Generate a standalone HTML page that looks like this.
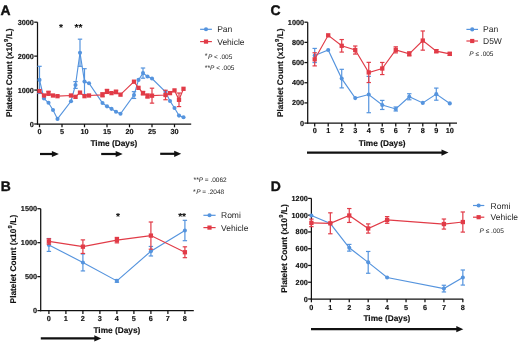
<!DOCTYPE html>
<html><head><meta charset="utf-8"><style>
html,body{margin:0;padding:0;background:#fff;}
body{width:520px;height:343px;overflow:hidden;}
svg{display:block;font-family:"Liberation Sans", sans-serif;filter:blur(0.3px);text-rendering:geometricPrecision;}
</style></head><body>
<svg width="520" height="343" viewBox="0 0 520 343">
<rect width="520" height="343" fill="#fff"/>
<line x1="37.5" y1="22.2" x2="37.5" y2="124.6" stroke="#111" stroke-width="1.25" />
<line x1="36.9" y1="124" x2="191.2" y2="124" stroke="#111" stroke-width="1.25" />
<line x1="34.2" y1="124" x2="37.5" y2="124" stroke="#111" stroke-width="1.25" />
<text x="33.9" y="126.5" font-size="7.3" font-weight="bold" text-anchor="end" fill="#111" stroke="#111" stroke-width="0.15"  >0</text>
<line x1="34.2" y1="90.07" x2="37.5" y2="90.07" stroke="#111" stroke-width="1.25" />
<text x="33.9" y="92.57" font-size="7.3" font-weight="bold" text-anchor="end" fill="#111" stroke="#111" stroke-width="0.15"  >1000</text>
<line x1="34.2" y1="56.13" x2="37.5" y2="56.13" stroke="#111" stroke-width="1.25" />
<text x="33.9" y="58.63" font-size="7.3" font-weight="bold" text-anchor="end" fill="#111" stroke="#111" stroke-width="0.15"  >2000</text>
<line x1="34.2" y1="22.2" x2="37.5" y2="22.2" stroke="#111" stroke-width="1.25" />
<text x="33.9" y="24.7" font-size="7.3" font-weight="bold" text-anchor="end" fill="#111" stroke="#111" stroke-width="0.15"  >3000</text>
<line x1="39.5" y1="124" x2="39.5" y2="127.3" stroke="#111" stroke-width="1.25" />
<text x="39.5" y="133.8" font-size="7.3" font-weight="bold" text-anchor="middle" fill="#111" stroke="#111" stroke-width="0.15"  >0</text>
<line x1="62" y1="124" x2="62" y2="127.3" stroke="#111" stroke-width="1.25" />
<text x="62" y="133.8" font-size="7.3" font-weight="bold" text-anchor="middle" fill="#111" stroke="#111" stroke-width="0.15"  >5</text>
<line x1="84.5" y1="124" x2="84.5" y2="127.3" stroke="#111" stroke-width="1.25" />
<text x="84.5" y="133.8" font-size="7.3" font-weight="bold" text-anchor="middle" fill="#111" stroke="#111" stroke-width="0.15"  >10</text>
<line x1="107" y1="124" x2="107" y2="127.3" stroke="#111" stroke-width="1.25" />
<text x="107" y="133.8" font-size="7.3" font-weight="bold" text-anchor="middle" fill="#111" stroke="#111" stroke-width="0.15"  >15</text>
<line x1="129.5" y1="124" x2="129.5" y2="127.3" stroke="#111" stroke-width="1.25" />
<text x="129.5" y="133.8" font-size="7.3" font-weight="bold" text-anchor="middle" fill="#111" stroke="#111" stroke-width="0.15"  >20</text>
<line x1="152" y1="124" x2="152" y2="127.3" stroke="#111" stroke-width="1.25" />
<text x="152" y="133.8" font-size="7.3" font-weight="bold" text-anchor="middle" fill="#111" stroke="#111" stroke-width="0.15"  >25</text>
<line x1="174.5" y1="124" x2="174.5" y2="127.3" stroke="#111" stroke-width="1.25" />
<text x="174.5" y="133.8" font-size="7.3" font-weight="bold" text-anchor="middle" fill="#111" stroke="#111" stroke-width="0.15"  >30</text>
<text x="113.9" y="145.6" font-size="8.3" font-weight="bold" text-anchor="middle" fill="#111" stroke="#111" stroke-width="0.15"  >Time (Days)</text>
<text transform="translate(11.6,72.8) rotate(-90)" font-size="8.3" font-weight="bold" text-anchor="middle" fill="#111" stroke="#111" stroke-width="0.15">Platelet Count (x10<tspan font-size="5.8" dy="-3.6" dx="0.3">9</tspan><tspan dy="3.6" dx="0.2">/L)</tspan></text>
<text x="0.5" y="15.2" font-size="13.9" font-weight="bold" text-anchor="start" fill="#111" stroke="#111" stroke-width="0.4"  >A</text>
<line x1="39.5" y1="66.31" x2="39.5" y2="93.46" stroke="#5594de" stroke-width="1.2" />
<line x1="37.3" y1="66.31" x2="41.7" y2="66.31" stroke="#5594de" stroke-width="1.2" />
<line x1="37.3" y1="93.46" x2="41.7" y2="93.46" stroke="#5594de" stroke-width="1.2" />
<line x1="75.5" y1="81.58" x2="75.5" y2="88.37" stroke="#5594de" stroke-width="1.2" />
<line x1="73.3" y1="81.58" x2="77.7" y2="81.58" stroke="#5594de" stroke-width="1.2" />
<line x1="73.3" y1="88.37" x2="77.7" y2="88.37" stroke="#5594de" stroke-width="1.2" />
<line x1="80" y1="39.17" x2="80" y2="66.31" stroke="#5594de" stroke-width="1.2" />
<line x1="77.8" y1="39.17" x2="82.2" y2="39.17" stroke="#5594de" stroke-width="1.2" />
<line x1="77.8" y1="66.31" x2="82.2" y2="66.31" stroke="#5594de" stroke-width="1.2" />
<line x1="84.5" y1="68.69" x2="84.5" y2="94.48" stroke="#5594de" stroke-width="1.2" />
<line x1="82.3" y1="68.69" x2="86.7" y2="68.69" stroke="#5594de" stroke-width="1.2" />
<line x1="82.3" y1="94.48" x2="86.7" y2="94.48" stroke="#5594de" stroke-width="1.2" />
<line x1="134" y1="91.66" x2="134" y2="98.45" stroke="#5594de" stroke-width="1.2" />
<line x1="131.8" y1="91.66" x2="136.2" y2="91.66" stroke="#5594de" stroke-width="1.2" />
<line x1="131.8" y1="98.45" x2="136.2" y2="98.45" stroke="#5594de" stroke-width="1.2" />
<line x1="143" y1="68.01" x2="143" y2="78.19" stroke="#5594de" stroke-width="1.2" />
<line x1="140.8" y1="68.01" x2="145.2" y2="68.01" stroke="#5594de" stroke-width="1.2" />
<line x1="140.8" y1="78.19" x2="145.2" y2="78.19" stroke="#5594de" stroke-width="1.2" />
<path d="M39.5,79.89 L44,98.55 L48.5,102.76 L53,109.95 L57.5,118.91 L71,101.26 L75.5,84.98 L80,52.74 L84.5,81.58 L89,83.28 L102.5,103.03 L107,106.35 L111.5,108.83 L116,111.72 L120.5,113.82 L134,95.05 L138.5,79.89 L143,73.1 L147.5,76.49 L152,78.53 L165.5,91.76 L170,101.06 L174.5,108.05 L179,115.62 L183.5,117.32" fill="none" stroke="#5594de" stroke-width="1.15"/>
<circle cx="39.5" cy="79.89" r="2.05" fill="#5594de"/>
<circle cx="44" cy="98.55" r="2.05" fill="#5594de"/>
<circle cx="48.5" cy="102.76" r="2.05" fill="#5594de"/>
<circle cx="53" cy="109.95" r="2.05" fill="#5594de"/>
<circle cx="57.5" cy="118.91" r="2.05" fill="#5594de"/>
<circle cx="71" cy="101.26" r="2.05" fill="#5594de"/>
<circle cx="75.5" cy="84.98" r="2.05" fill="#5594de"/>
<circle cx="80" cy="52.74" r="2.05" fill="#5594de"/>
<circle cx="84.5" cy="81.58" r="2.05" fill="#5594de"/>
<circle cx="89" cy="83.28" r="2.05" fill="#5594de"/>
<circle cx="102.5" cy="103.03" r="2.05" fill="#5594de"/>
<circle cx="107" cy="106.35" r="2.05" fill="#5594de"/>
<circle cx="111.5" cy="108.83" r="2.05" fill="#5594de"/>
<circle cx="116" cy="111.72" r="2.05" fill="#5594de"/>
<circle cx="120.5" cy="113.82" r="2.05" fill="#5594de"/>
<circle cx="134" cy="95.05" r="2.05" fill="#5594de"/>
<circle cx="138.5" cy="79.89" r="2.05" fill="#5594de"/>
<circle cx="143" cy="73.1" r="2.05" fill="#5594de"/>
<circle cx="147.5" cy="76.49" r="2.05" fill="#5594de"/>
<circle cx="152" cy="78.53" r="2.05" fill="#5594de"/>
<circle cx="165.5" cy="91.76" r="2.05" fill="#5594de"/>
<circle cx="170" cy="101.06" r="2.05" fill="#5594de"/>
<circle cx="174.5" cy="108.05" r="2.05" fill="#5594de"/>
<circle cx="179" cy="115.62" r="2.05" fill="#5594de"/>
<circle cx="183.5" cy="117.32" r="2.05" fill="#5594de"/>
<line x1="48.5" y1="91.25" x2="48.5" y2="95.33" stroke="#e13b47" stroke-width="1.2" />
<line x1="46.3" y1="91.25" x2="50.7" y2="91.25" stroke="#e13b47" stroke-width="1.2" />
<line x1="46.3" y1="95.33" x2="50.7" y2="95.33" stroke="#e13b47" stroke-width="1.2" />
<line x1="102.5" y1="92.78" x2="102.5" y2="96.85" stroke="#e13b47" stroke-width="1.2" />
<line x1="100.3" y1="92.78" x2="104.7" y2="92.78" stroke="#e13b47" stroke-width="1.2" />
<line x1="100.3" y1="96.85" x2="104.7" y2="96.85" stroke="#e13b47" stroke-width="1.2" />
<line x1="107" y1="89.39" x2="107" y2="93.46" stroke="#e13b47" stroke-width="1.2" />
<line x1="104.8" y1="89.39" x2="109.2" y2="89.39" stroke="#e13b47" stroke-width="1.2" />
<line x1="104.8" y1="93.46" x2="109.2" y2="93.46" stroke="#e13b47" stroke-width="1.2" />
<line x1="116" y1="90.24" x2="116" y2="93.63" stroke="#e13b47" stroke-width="1.2" />
<line x1="113.8" y1="90.24" x2="118.2" y2="90.24" stroke="#e13b47" stroke-width="1.2" />
<line x1="113.8" y1="93.63" x2="118.2" y2="93.63" stroke="#e13b47" stroke-width="1.2" />
<line x1="143" y1="91.42" x2="143" y2="94.82" stroke="#e13b47" stroke-width="1.2" />
<line x1="140.8" y1="91.42" x2="145.2" y2="91.42" stroke="#e13b47" stroke-width="1.2" />
<line x1="140.8" y1="94.82" x2="145.2" y2="94.82" stroke="#e13b47" stroke-width="1.2" />
<line x1="147.5" y1="93.97" x2="147.5" y2="98.04" stroke="#e13b47" stroke-width="1.2" />
<line x1="145.3" y1="93.97" x2="149.7" y2="93.97" stroke="#e13b47" stroke-width="1.2" />
<line x1="145.3" y1="98.04" x2="149.7" y2="98.04" stroke="#e13b47" stroke-width="1.2" />
<line x1="152" y1="88.2" x2="152" y2="103.13" stroke="#e13b47" stroke-width="1.2" />
<line x1="149.8" y1="88.2" x2="154.2" y2="88.2" stroke="#e13b47" stroke-width="1.2" />
<line x1="149.8" y1="103.13" x2="154.2" y2="103.13" stroke="#e13b47" stroke-width="1.2" />
<line x1="165.5" y1="90.24" x2="165.5" y2="99.74" stroke="#e13b47" stroke-width="1.2" />
<line x1="163.3" y1="90.24" x2="167.7" y2="90.24" stroke="#e13b47" stroke-width="1.2" />
<line x1="163.3" y1="99.74" x2="167.7" y2="99.74" stroke="#e13b47" stroke-width="1.2" />
<line x1="179" y1="93.02" x2="179" y2="106.59" stroke="#e13b47" stroke-width="1.2" />
<line x1="176.8" y1="93.02" x2="181.2" y2="93.02" stroke="#e13b47" stroke-width="1.2" />
<line x1="176.8" y1="106.59" x2="181.2" y2="106.59" stroke="#e13b47" stroke-width="1.2" />
<path d="M39.5,91.08 L44,95.5 L48.5,93.29 L53,95.5 L57.5,96.17 L71,95.5 L75.5,96.85 L80,92.61 L84.5,96.17 L89,95.5 L102.5,94.82 L107,91.42 L111.5,93.12 L116,91.93 L120.5,94.65 L134,81.69 L138.5,87.86 L143,93.12 L147.5,96 L152,95.67 L165.5,94.99 L170,93.12 L174.5,90.41 L179,99.81 L183.5,88.81" fill="none" stroke="#e13b47" stroke-width="1.15"/>
<rect x="37.35" y="88.93" width="4.3" height="4.3" fill="#e13b47"/>
<rect x="41.85" y="93.35" width="4.3" height="4.3" fill="#e13b47"/>
<rect x="46.35" y="91.14" width="4.3" height="4.3" fill="#e13b47"/>
<rect x="50.85" y="93.35" width="4.3" height="4.3" fill="#e13b47"/>
<rect x="55.35" y="94.02" width="4.3" height="4.3" fill="#e13b47"/>
<rect x="68.85" y="93.35" width="4.3" height="4.3" fill="#e13b47"/>
<rect x="73.35" y="94.7" width="4.3" height="4.3" fill="#e13b47"/>
<rect x="77.85" y="90.46" width="4.3" height="4.3" fill="#e13b47"/>
<rect x="82.35" y="94.02" width="4.3" height="4.3" fill="#e13b47"/>
<rect x="86.85" y="93.35" width="4.3" height="4.3" fill="#e13b47"/>
<rect x="100.35" y="92.67" width="4.3" height="4.3" fill="#e13b47"/>
<rect x="104.85" y="89.27" width="4.3" height="4.3" fill="#e13b47"/>
<rect x="109.35" y="90.97" width="4.3" height="4.3" fill="#e13b47"/>
<rect x="113.85" y="89.78" width="4.3" height="4.3" fill="#e13b47"/>
<rect x="118.35" y="92.5" width="4.3" height="4.3" fill="#e13b47"/>
<rect x="131.85" y="79.54" width="4.3" height="4.3" fill="#e13b47"/>
<rect x="136.35" y="85.71" width="4.3" height="4.3" fill="#e13b47"/>
<rect x="140.85" y="90.97" width="4.3" height="4.3" fill="#e13b47"/>
<rect x="145.35" y="93.85" width="4.3" height="4.3" fill="#e13b47"/>
<rect x="149.85" y="93.52" width="4.3" height="4.3" fill="#e13b47"/>
<rect x="163.35" y="92.84" width="4.3" height="4.3" fill="#e13b47"/>
<rect x="167.85" y="90.97" width="4.3" height="4.3" fill="#e13b47"/>
<rect x="172.35" y="88.26" width="4.3" height="4.3" fill="#e13b47"/>
<rect x="176.85" y="97.66" width="4.3" height="4.3" fill="#e13b47"/>
<rect x="181.35" y="86.66" width="4.3" height="4.3" fill="#e13b47"/>
<line x1="200.1" y1="29.3" x2="211.9" y2="29.3" stroke="#5594de" stroke-width="1.2" />
<circle cx="206" cy="29.3" r="2.05" fill="#5594de"/>
<text x="217.2" y="32.3" font-size="8.5" font-weight="normal" text-anchor="start" fill="#262626"  >Pan</text>
<line x1="200.1" y1="41.6" x2="211.9" y2="41.6" stroke="#e13b47" stroke-width="1.2" />
<rect x="203.9" y="39.5" width="4.2" height="4.2" fill="#e13b47"/>
<text x="217.2" y="44.6" font-size="8.5" font-weight="normal" text-anchor="start" fill="#262626"  >Vehicle</text>
<text x="204.8" y="58.3" font-size="7" fill="#222">*</text>
<text x="207.9" y="58.6" font-size="6.5" fill="#222"><tspan font-style="italic">P</tspan> &lt; .005</text>
<text x="204.8" y="69.8" font-size="7" fill="#222">**</text>
<text x="210" y="70.1" font-size="6.5" fill="#222"><tspan font-style="italic">P</tspan> &lt; .005</text>
<text x="61" y="31" font-size="10.2" font-weight="bold" text-anchor="middle" fill="#111" stroke="#111" stroke-width="0.05"  >*</text>
<text x="78.4" y="31" font-size="10.2" font-weight="bold" text-anchor="middle" fill="#111" stroke="#111" stroke-width="0.05"  >**</text>
<line x1="40" y1="154" x2="52.9" y2="154" stroke="#111" stroke-width="2.2" />
<path d="M58.9,154 L51.9,150.9 L51.9,157.1 Z" fill="#111"/>
<line x1="101.2" y1="154" x2="116.7" y2="154" stroke="#111" stroke-width="2.2" />
<path d="M122.7,154 L115.7,150.9 L115.7,157.1 Z" fill="#111"/>
<line x1="160.2" y1="153.8" x2="175.2" y2="153.8" stroke="#111" stroke-width="2.2" />
<path d="M181.2,153.8 L174.2,150.7 L174.2,156.9 Z" fill="#111"/>
<line x1="307.7" y1="22.2" x2="307.7" y2="123.7" stroke="#111" stroke-width="1.25" />
<line x1="307.1" y1="123.1" x2="457" y2="123.1" stroke="#111" stroke-width="1.25" />
<line x1="304.4" y1="123.1" x2="307.7" y2="123.1" stroke="#111" stroke-width="1.25" />
<text x="304.1" y="125.6" font-size="7.3" font-weight="bold" text-anchor="end" fill="#111" stroke="#111" stroke-width="0.15"  >0</text>
<line x1="304.4" y1="102.92" x2="307.7" y2="102.92" stroke="#111" stroke-width="1.25" />
<text x="304.1" y="105.42" font-size="7.3" font-weight="bold" text-anchor="end" fill="#111" stroke="#111" stroke-width="0.15"  >200</text>
<line x1="304.4" y1="82.74" x2="307.7" y2="82.74" stroke="#111" stroke-width="1.25" />
<text x="304.1" y="85.24" font-size="7.3" font-weight="bold" text-anchor="end" fill="#111" stroke="#111" stroke-width="0.15"  >400</text>
<line x1="304.4" y1="62.56" x2="307.7" y2="62.56" stroke="#111" stroke-width="1.25" />
<text x="304.1" y="65.06" font-size="7.3" font-weight="bold" text-anchor="end" fill="#111" stroke="#111" stroke-width="0.15"  >600</text>
<line x1="304.4" y1="42.38" x2="307.7" y2="42.38" stroke="#111" stroke-width="1.25" />
<text x="304.1" y="44.88" font-size="7.3" font-weight="bold" text-anchor="end" fill="#111" stroke="#111" stroke-width="0.15"  >800</text>
<line x1="304.4" y1="22.2" x2="307.7" y2="22.2" stroke="#111" stroke-width="1.25" />
<text x="304.1" y="24.7" font-size="7.3" font-weight="bold" text-anchor="end" fill="#111" stroke="#111" stroke-width="0.15"  >1000</text>
<line x1="314.7" y1="123.1" x2="314.7" y2="126.4" stroke="#111" stroke-width="1.25" />
<text x="314.7" y="133.2" font-size="7.3" font-weight="bold" text-anchor="middle" fill="#111" stroke="#111" stroke-width="0.15"  >0</text>
<line x1="328.21" y1="123.1" x2="328.21" y2="126.4" stroke="#111" stroke-width="1.25" />
<text x="328.21" y="133.2" font-size="7.3" font-weight="bold" text-anchor="middle" fill="#111" stroke="#111" stroke-width="0.15"  >1</text>
<line x1="341.72" y1="123.1" x2="341.72" y2="126.4" stroke="#111" stroke-width="1.25" />
<text x="341.72" y="133.2" font-size="7.3" font-weight="bold" text-anchor="middle" fill="#111" stroke="#111" stroke-width="0.15"  >2</text>
<line x1="355.23" y1="123.1" x2="355.23" y2="126.4" stroke="#111" stroke-width="1.25" />
<text x="355.23" y="133.2" font-size="7.3" font-weight="bold" text-anchor="middle" fill="#111" stroke="#111" stroke-width="0.15"  >3</text>
<line x1="368.74" y1="123.1" x2="368.74" y2="126.4" stroke="#111" stroke-width="1.25" />
<text x="368.74" y="133.2" font-size="7.3" font-weight="bold" text-anchor="middle" fill="#111" stroke="#111" stroke-width="0.15"  >4</text>
<line x1="382.25" y1="123.1" x2="382.25" y2="126.4" stroke="#111" stroke-width="1.25" />
<text x="382.25" y="133.2" font-size="7.3" font-weight="bold" text-anchor="middle" fill="#111" stroke="#111" stroke-width="0.15"  >5</text>
<line x1="395.76" y1="123.1" x2="395.76" y2="126.4" stroke="#111" stroke-width="1.25" />
<text x="395.76" y="133.2" font-size="7.3" font-weight="bold" text-anchor="middle" fill="#111" stroke="#111" stroke-width="0.15"  >6</text>
<line x1="409.27" y1="123.1" x2="409.27" y2="126.4" stroke="#111" stroke-width="1.25" />
<text x="409.27" y="133.2" font-size="7.3" font-weight="bold" text-anchor="middle" fill="#111" stroke="#111" stroke-width="0.15"  >7</text>
<line x1="422.78" y1="123.1" x2="422.78" y2="126.4" stroke="#111" stroke-width="1.25" />
<text x="422.78" y="133.2" font-size="7.3" font-weight="bold" text-anchor="middle" fill="#111" stroke="#111" stroke-width="0.15"  >8</text>
<line x1="436.29" y1="123.1" x2="436.29" y2="126.4" stroke="#111" stroke-width="1.25" />
<text x="436.29" y="133.2" font-size="7.3" font-weight="bold" text-anchor="middle" fill="#111" stroke="#111" stroke-width="0.15"  >9</text>
<line x1="449.8" y1="123.1" x2="449.8" y2="126.4" stroke="#111" stroke-width="1.25" />
<text x="449.8" y="133.2" font-size="7.3" font-weight="bold" text-anchor="middle" fill="#111" stroke="#111" stroke-width="0.15"  >10</text>
<text x="382.1" y="145.6" font-size="8.3" font-weight="bold" text-anchor="middle" fill="#111" stroke="#111" stroke-width="0.15"  >Time (Days)</text>
<text transform="translate(282.5,72.7) rotate(-90)" font-size="8.3" font-weight="bold" text-anchor="middle" fill="#111" stroke="#111" stroke-width="0.15">Platelet Count (x10<tspan font-size="5.8" dy="-3.6" dx="0.3">9</tspan><tspan dy="3.6" dx="0.2">/L)</tspan></text>
<text x="270.5" y="15.2" font-size="13.9" font-weight="bold" text-anchor="start" fill="#111" stroke="#111" stroke-width="0.4"  >C</text>
<line x1="314.7" y1="48.43" x2="314.7" y2="62.56" stroke="#5594de" stroke-width="1.2" />
<line x1="312.5" y1="48.43" x2="316.9" y2="48.43" stroke="#5594de" stroke-width="1.2" />
<line x1="312.5" y1="62.56" x2="316.9" y2="62.56" stroke="#5594de" stroke-width="1.2" />
<line x1="341.72" y1="69.32" x2="341.72" y2="87.89" stroke="#5594de" stroke-width="1.2" />
<line x1="339.52" y1="69.32" x2="343.92" y2="69.32" stroke="#5594de" stroke-width="1.2" />
<line x1="339.52" y1="87.89" x2="343.92" y2="87.89" stroke="#5594de" stroke-width="1.2" />
<line x1="368.74" y1="76.38" x2="368.74" y2="112.71" stroke="#5594de" stroke-width="1.2" />
<line x1="366.54" y1="76.38" x2="370.94" y2="76.38" stroke="#5594de" stroke-width="1.2" />
<line x1="366.54" y1="112.71" x2="370.94" y2="112.71" stroke="#5594de" stroke-width="1.2" />
<line x1="382.25" y1="100.4" x2="382.25" y2="109.48" stroke="#5594de" stroke-width="1.2" />
<line x1="380.05" y1="100.4" x2="384.45" y2="100.4" stroke="#5594de" stroke-width="1.2" />
<line x1="380.05" y1="109.48" x2="384.45" y2="109.48" stroke="#5594de" stroke-width="1.2" />
<line x1="395.76" y1="106.96" x2="395.76" y2="110.99" stroke="#5594de" stroke-width="1.2" />
<line x1="393.56" y1="106.96" x2="397.96" y2="106.96" stroke="#5594de" stroke-width="1.2" />
<line x1="393.56" y1="110.99" x2="397.96" y2="110.99" stroke="#5594de" stroke-width="1.2" />
<line x1="409.27" y1="93.74" x2="409.27" y2="99.79" stroke="#5594de" stroke-width="1.2" />
<line x1="407.07" y1="93.74" x2="411.47" y2="93.74" stroke="#5594de" stroke-width="1.2" />
<line x1="407.07" y1="99.79" x2="411.47" y2="99.79" stroke="#5594de" stroke-width="1.2" />
<line x1="436.29" y1="88.09" x2="436.29" y2="100.2" stroke="#5594de" stroke-width="1.2" />
<line x1="434.09" y1="88.09" x2="438.49" y2="88.09" stroke="#5594de" stroke-width="1.2" />
<line x1="434.09" y1="100.2" x2="438.49" y2="100.2" stroke="#5594de" stroke-width="1.2" />
<path d="M314.7,55.5 L328.21,50.05 L341.72,78.6 L355.23,98.08 L368.74,94.55 L382.25,104.94 L395.76,108.97 L409.27,96.77 L422.78,102.92 L436.29,94.14 L449.8,103.42" fill="none" stroke="#5594de" stroke-width="1.15"/>
<circle cx="314.7" cy="55.5" r="2.05" fill="#5594de"/>
<circle cx="328.21" cy="50.05" r="2.05" fill="#5594de"/>
<circle cx="341.72" cy="78.6" r="2.05" fill="#5594de"/>
<circle cx="355.23" cy="98.08" r="2.05" fill="#5594de"/>
<circle cx="368.74" cy="94.55" r="2.05" fill="#5594de"/>
<circle cx="382.25" cy="104.94" r="2.05" fill="#5594de"/>
<circle cx="395.76" cy="108.97" r="2.05" fill="#5594de"/>
<circle cx="409.27" cy="96.77" r="2.05" fill="#5594de"/>
<circle cx="422.78" cy="102.92" r="2.05" fill="#5594de"/>
<circle cx="436.29" cy="94.14" r="2.05" fill="#5594de"/>
<circle cx="449.8" cy="103.42" r="2.05" fill="#5594de"/>
<line x1="314.7" y1="52.77" x2="314.7" y2="65.89" stroke="#e13b47" stroke-width="1.2" />
<line x1="312.5" y1="52.77" x2="316.9" y2="52.77" stroke="#e13b47" stroke-width="1.2" />
<line x1="312.5" y1="65.89" x2="316.9" y2="65.89" stroke="#e13b47" stroke-width="1.2" />
<line x1="341.72" y1="39.55" x2="341.72" y2="52.07" stroke="#e13b47" stroke-width="1.2" />
<line x1="339.52" y1="39.55" x2="343.92" y2="39.55" stroke="#e13b47" stroke-width="1.2" />
<line x1="339.52" y1="52.07" x2="343.92" y2="52.07" stroke="#e13b47" stroke-width="1.2" />
<line x1="355.23" y1="46.01" x2="355.23" y2="54.08" stroke="#e13b47" stroke-width="1.2" />
<line x1="353.03" y1="46.01" x2="357.43" y2="46.01" stroke="#e13b47" stroke-width="1.2" />
<line x1="353.03" y1="54.08" x2="357.43" y2="54.08" stroke="#e13b47" stroke-width="1.2" />
<line x1="368.74" y1="62.36" x2="368.74" y2="82.54" stroke="#e13b47" stroke-width="1.2" />
<line x1="366.54" y1="62.36" x2="370.94" y2="62.36" stroke="#e13b47" stroke-width="1.2" />
<line x1="366.54" y1="82.54" x2="370.94" y2="82.54" stroke="#e13b47" stroke-width="1.2" />
<line x1="382.25" y1="62.46" x2="382.25" y2="74.57" stroke="#e13b47" stroke-width="1.2" />
<line x1="380.05" y1="62.46" x2="384.45" y2="62.46" stroke="#e13b47" stroke-width="1.2" />
<line x1="380.05" y1="74.57" x2="384.45" y2="74.57" stroke="#e13b47" stroke-width="1.2" />
<line x1="395.76" y1="46.82" x2="395.76" y2="52.87" stroke="#e13b47" stroke-width="1.2" />
<line x1="393.56" y1="46.82" x2="397.96" y2="46.82" stroke="#e13b47" stroke-width="1.2" />
<line x1="393.56" y1="52.87" x2="397.96" y2="52.87" stroke="#e13b47" stroke-width="1.2" />
<line x1="409.27" y1="51.86" x2="409.27" y2="55.9" stroke="#e13b47" stroke-width="1.2" />
<line x1="407.07" y1="51.86" x2="411.47" y2="51.86" stroke="#e13b47" stroke-width="1.2" />
<line x1="407.07" y1="55.9" x2="411.47" y2="55.9" stroke="#e13b47" stroke-width="1.2" />
<line x1="422.78" y1="30.98" x2="422.78" y2="50.15" stroke="#e13b47" stroke-width="1.2" />
<line x1="420.58" y1="30.98" x2="424.98" y2="30.98" stroke="#e13b47" stroke-width="1.2" />
<line x1="420.58" y1="50.15" x2="424.98" y2="50.15" stroke="#e13b47" stroke-width="1.2" />
<line x1="436.29" y1="49.64" x2="436.29" y2="52.67" stroke="#e13b47" stroke-width="1.2" />
<line x1="434.09" y1="49.64" x2="438.49" y2="49.64" stroke="#e13b47" stroke-width="1.2" />
<line x1="434.09" y1="52.67" x2="438.49" y2="52.67" stroke="#e13b47" stroke-width="1.2" />
<line x1="449.8" y1="52.37" x2="449.8" y2="55.4" stroke="#e13b47" stroke-width="1.2" />
<line x1="447.6" y1="52.37" x2="452" y2="52.37" stroke="#e13b47" stroke-width="1.2" />
<line x1="447.6" y1="55.4" x2="452" y2="55.4" stroke="#e13b47" stroke-width="1.2" />
<path d="M314.7,59.33 L328.21,35.32 L341.72,45.81 L355.23,50.05 L368.74,72.45 L382.25,68.51 L395.76,49.85 L409.27,53.88 L422.78,40.56 L436.29,51.16 L449.8,53.88" fill="none" stroke="#e13b47" stroke-width="1.15"/>
<rect x="312.55" y="57.18" width="4.3" height="4.3" fill="#e13b47"/>
<rect x="326.06" y="33.17" width="4.3" height="4.3" fill="#e13b47"/>
<rect x="339.57" y="43.66" width="4.3" height="4.3" fill="#e13b47"/>
<rect x="353.08" y="47.9" width="4.3" height="4.3" fill="#e13b47"/>
<rect x="366.59" y="70.3" width="4.3" height="4.3" fill="#e13b47"/>
<rect x="380.1" y="66.36" width="4.3" height="4.3" fill="#e13b47"/>
<rect x="393.61" y="47.7" width="4.3" height="4.3" fill="#e13b47"/>
<rect x="407.12" y="51.73" width="4.3" height="4.3" fill="#e13b47"/>
<rect x="420.63" y="38.41" width="4.3" height="4.3" fill="#e13b47"/>
<rect x="434.14" y="49.01" width="4.3" height="4.3" fill="#e13b47"/>
<rect x="447.65" y="51.73" width="4.3" height="4.3" fill="#e13b47"/>
<line x1="466.4" y1="29.4" x2="478" y2="29.4" stroke="#5594de" stroke-width="1.2" />
<circle cx="472.2" cy="29.4" r="2.05" fill="#5594de"/>
<text x="483" y="32.4" font-size="8.5" font-weight="normal" text-anchor="start" fill="#262626"  >Pan</text>
<line x1="466.4" y1="41" x2="478" y2="41" stroke="#e13b47" stroke-width="1.2" />
<rect x="470.1" y="38.9" width="4.2" height="4.2" fill="#e13b47"/>
<text x="483" y="44" font-size="8.5" font-weight="normal" text-anchor="start" fill="#262626"  >D5W</text>
<text x="469.3" y="55.6" font-size="6.5" fill="#222"><tspan font-style="italic">P</tspan> ≤ .005</text>
<line x1="307" y1="152.6" x2="442.5" y2="152.6" stroke="#111" stroke-width="2.2" />
<path d="M448.5,152.6 L441.5,149.5 L441.5,155.7 Z" fill="#111"/>
<line x1="40.7" y1="208.7" x2="40.7" y2="311.2" stroke="#111" stroke-width="1.25" />
<line x1="40.1" y1="310.6" x2="193.8" y2="310.6" stroke="#111" stroke-width="1.25" />
<line x1="37.4" y1="310.6" x2="40.7" y2="310.6" stroke="#111" stroke-width="1.25" />
<text x="37.1" y="313.1" font-size="7.3" font-weight="bold" text-anchor="end" fill="#111" stroke="#111" stroke-width="0.15"  >0</text>
<line x1="37.4" y1="276.63" x2="40.7" y2="276.63" stroke="#111" stroke-width="1.25" />
<text x="37.1" y="279.13" font-size="7.3" font-weight="bold" text-anchor="end" fill="#111" stroke="#111" stroke-width="0.15"  >500</text>
<line x1="37.4" y1="242.67" x2="40.7" y2="242.67" stroke="#111" stroke-width="1.25" />
<text x="37.1" y="245.17" font-size="7.3" font-weight="bold" text-anchor="end" fill="#111" stroke="#111" stroke-width="0.15"  >1000</text>
<line x1="37.4" y1="208.7" x2="40.7" y2="208.7" stroke="#111" stroke-width="1.25" />
<text x="37.1" y="211.2" font-size="7.3" font-weight="bold" text-anchor="end" fill="#111" stroke="#111" stroke-width="0.15"  >1500</text>
<line x1="48.9" y1="310.6" x2="48.9" y2="313.9" stroke="#111" stroke-width="1.25" />
<text x="48.9" y="321.2" font-size="7.3" font-weight="bold" text-anchor="middle" fill="#111" stroke="#111" stroke-width="0.15"  >0</text>
<line x1="65.9" y1="310.6" x2="65.9" y2="313.9" stroke="#111" stroke-width="1.25" />
<text x="65.9" y="321.2" font-size="7.3" font-weight="bold" text-anchor="middle" fill="#111" stroke="#111" stroke-width="0.15"  >1</text>
<line x1="82.9" y1="310.6" x2="82.9" y2="313.9" stroke="#111" stroke-width="1.25" />
<text x="82.9" y="321.2" font-size="7.3" font-weight="bold" text-anchor="middle" fill="#111" stroke="#111" stroke-width="0.15"  >2</text>
<line x1="99.9" y1="310.6" x2="99.9" y2="313.9" stroke="#111" stroke-width="1.25" />
<text x="99.9" y="321.2" font-size="7.3" font-weight="bold" text-anchor="middle" fill="#111" stroke="#111" stroke-width="0.15"  >3</text>
<line x1="116.9" y1="310.6" x2="116.9" y2="313.9" stroke="#111" stroke-width="1.25" />
<text x="116.9" y="321.2" font-size="7.3" font-weight="bold" text-anchor="middle" fill="#111" stroke="#111" stroke-width="0.15"  >4</text>
<line x1="133.9" y1="310.6" x2="133.9" y2="313.9" stroke="#111" stroke-width="1.25" />
<text x="133.9" y="321.2" font-size="7.3" font-weight="bold" text-anchor="middle" fill="#111" stroke="#111" stroke-width="0.15"  >5</text>
<line x1="150.9" y1="310.6" x2="150.9" y2="313.9" stroke="#111" stroke-width="1.25" />
<text x="150.9" y="321.2" font-size="7.3" font-weight="bold" text-anchor="middle" fill="#111" stroke="#111" stroke-width="0.15"  >6</text>
<line x1="167.9" y1="310.6" x2="167.9" y2="313.9" stroke="#111" stroke-width="1.25" />
<text x="167.9" y="321.2" font-size="7.3" font-weight="bold" text-anchor="middle" fill="#111" stroke="#111" stroke-width="0.15"  >7</text>
<line x1="184.9" y1="310.6" x2="184.9" y2="313.9" stroke="#111" stroke-width="1.25" />
<text x="184.9" y="321.2" font-size="7.3" font-weight="bold" text-anchor="middle" fill="#111" stroke="#111" stroke-width="0.15"  >8</text>
<text x="116.9" y="332.7" font-size="8.3" font-weight="bold" text-anchor="middle" fill="#111" stroke="#111" stroke-width="0.15"  >Time (Days)</text>
<text transform="translate(15.8,259.1) rotate(-90)" font-size="8.3" font-weight="bold" text-anchor="middle" fill="#111" stroke="#111" stroke-width="0.15">Platelet Count (x10<tspan font-size="5.8" dy="-3.6" dx="0.3">9</tspan><tspan dy="3.6" dx="0.2">/L)</tspan></text>
<text x="0.8" y="191.3" font-size="13.9" font-weight="bold" text-anchor="start" fill="#111" stroke="#111" stroke-width="0.4"  >B</text>
<line x1="48.9" y1="238.52" x2="48.9" y2="251.43" stroke="#5594de" stroke-width="1.2" />
<line x1="46.7" y1="238.52" x2="51.1" y2="238.52" stroke="#5594de" stroke-width="1.2" />
<line x1="46.7" y1="251.43" x2="51.1" y2="251.43" stroke="#5594de" stroke-width="1.2" />
<line x1="82.9" y1="253.94" x2="82.9" y2="270.93" stroke="#5594de" stroke-width="1.2" />
<line x1="80.7" y1="253.94" x2="85.1" y2="253.94" stroke="#5594de" stroke-width="1.2" />
<line x1="80.7" y1="270.93" x2="85.1" y2="270.93" stroke="#5594de" stroke-width="1.2" />
<line x1="116.9" y1="279.55" x2="116.9" y2="282.27" stroke="#5594de" stroke-width="1.2" />
<line x1="114.7" y1="279.55" x2="119.1" y2="279.55" stroke="#5594de" stroke-width="1.2" />
<line x1="114.7" y1="282.27" x2="119.1" y2="282.27" stroke="#5594de" stroke-width="1.2" />
<line x1="150.9" y1="246.47" x2="150.9" y2="255.98" stroke="#5594de" stroke-width="1.2" />
<line x1="148.7" y1="246.47" x2="153.1" y2="246.47" stroke="#5594de" stroke-width="1.2" />
<line x1="148.7" y1="255.98" x2="153.1" y2="255.98" stroke="#5594de" stroke-width="1.2" />
<line x1="184.9" y1="220.32" x2="184.9" y2="240.7" stroke="#5594de" stroke-width="1.2" />
<line x1="182.7" y1="220.32" x2="187.1" y2="220.32" stroke="#5594de" stroke-width="1.2" />
<line x1="182.7" y1="240.7" x2="187.1" y2="240.7" stroke="#5594de" stroke-width="1.2" />
<path d="M48.9,244.98 L82.9,262.44 L116.9,280.91 L150.9,251.23 L184.9,230.51" fill="none" stroke="#5594de" stroke-width="1.15"/>
<circle cx="48.9" cy="244.98" r="2.05" fill="#5594de"/>
<circle cx="82.9" cy="262.44" r="2.05" fill="#5594de"/>
<circle cx="116.9" cy="280.91" r="2.05" fill="#5594de"/>
<circle cx="150.9" cy="251.23" r="2.05" fill="#5594de"/>
<circle cx="184.9" cy="230.51" r="2.05" fill="#5594de"/>
<line x1="48.9" y1="238.73" x2="48.9" y2="244.16" stroke="#e13b47" stroke-width="1.2" />
<line x1="46.7" y1="238.73" x2="51.1" y2="238.73" stroke="#e13b47" stroke-width="1.2" />
<line x1="46.7" y1="244.16" x2="51.1" y2="244.16" stroke="#e13b47" stroke-width="1.2" />
<line x1="82.9" y1="239.88" x2="82.9" y2="253.47" stroke="#e13b47" stroke-width="1.2" />
<line x1="80.7" y1="239.88" x2="85.1" y2="239.88" stroke="#e13b47" stroke-width="1.2" />
<line x1="80.7" y1="253.47" x2="85.1" y2="253.47" stroke="#e13b47" stroke-width="1.2" />
<line x1="116.9" y1="237.44" x2="116.9" y2="242.87" stroke="#e13b47" stroke-width="1.2" />
<line x1="114.7" y1="237.44" x2="119.1" y2="237.44" stroke="#e13b47" stroke-width="1.2" />
<line x1="114.7" y1="242.87" x2="119.1" y2="242.87" stroke="#e13b47" stroke-width="1.2" />
<line x1="150.9" y1="222.01" x2="150.9" y2="249.19" stroke="#e13b47" stroke-width="1.2" />
<line x1="148.7" y1="222.01" x2="153.1" y2="222.01" stroke="#e13b47" stroke-width="1.2" />
<line x1="148.7" y1="249.19" x2="153.1" y2="249.19" stroke="#e13b47" stroke-width="1.2" />
<line x1="184.9" y1="246.81" x2="184.9" y2="257.68" stroke="#e13b47" stroke-width="1.2" />
<line x1="182.7" y1="246.81" x2="187.1" y2="246.81" stroke="#e13b47" stroke-width="1.2" />
<line x1="182.7" y1="257.68" x2="187.1" y2="257.68" stroke="#e13b47" stroke-width="1.2" />
<path d="M48.9,241.44 L82.9,246.67 L116.9,240.15 L150.9,235.6 L184.9,252.25" fill="none" stroke="#e13b47" stroke-width="1.15"/>
<rect x="46.75" y="239.29" width="4.3" height="4.3" fill="#e13b47"/>
<rect x="80.75" y="244.52" width="4.3" height="4.3" fill="#e13b47"/>
<rect x="114.75" y="238" width="4.3" height="4.3" fill="#e13b47"/>
<rect x="148.75" y="233.45" width="4.3" height="4.3" fill="#e13b47"/>
<rect x="182.75" y="250.1" width="4.3" height="4.3" fill="#e13b47"/>
<line x1="203.4" y1="215.3" x2="215.6" y2="215.3" stroke="#5594de" stroke-width="1.2" />
<circle cx="209.5" cy="215.3" r="2.05" fill="#5594de"/>
<text x="221" y="218.3" font-size="8.5" font-weight="normal" text-anchor="start" fill="#262626"  >Romi</text>
<line x1="203.4" y1="227.6" x2="215.6" y2="227.6" stroke="#e13b47" stroke-width="1.2" />
<rect x="207.4" y="225.5" width="4.2" height="4.2" fill="#e13b47"/>
<text x="221" y="230.6" font-size="8.5" font-weight="normal" text-anchor="start" fill="#262626"  >Vehicle</text>
<text x="193.6" y="182" font-size="7" fill="#222">**</text>
<text x="198.7" y="182.2" font-size="6.5" fill="#222"><tspan font-style="italic">P</tspan> = .0062</text>
<text x="192.9" y="193.9" font-size="7" fill="#222">*</text>
<text x="196.2" y="194.1" font-size="6.5" fill="#222"><tspan font-style="italic">P</tspan> = .2048</text>
<text x="118.1" y="220.2" font-size="10.2" font-weight="bold" text-anchor="middle" fill="#111" stroke="#111" stroke-width="0.05"  >*</text>
<text x="182.1" y="219.5" font-size="10.2" font-weight="bold" text-anchor="middle" fill="#111" stroke="#111" stroke-width="0.05"  >**</text>
<line x1="40.8" y1="338.4" x2="95.3" y2="338.4" stroke="#111" stroke-width="2.2" />
<path d="M101.3,338.4 L94.3,335.3 L94.3,341.5 Z" fill="#111"/>
<line x1="311.4" y1="198.4" x2="311.4" y2="299.6" stroke="#111" stroke-width="1.25" />
<line x1="310.8" y1="299" x2="463.2" y2="299" stroke="#111" stroke-width="1.25" />
<line x1="308.1" y1="299" x2="311.4" y2="299" stroke="#111" stroke-width="1.25" />
<text x="307.8" y="301.5" font-size="7.3" font-weight="bold" text-anchor="end" fill="#111" stroke="#111" stroke-width="0.15"  >0</text>
<line x1="308.1" y1="282.23" x2="311.4" y2="282.23" stroke="#111" stroke-width="1.25" />
<text x="307.8" y="284.73" font-size="7.3" font-weight="bold" text-anchor="end" fill="#111" stroke="#111" stroke-width="0.15"  >200</text>
<line x1="308.1" y1="265.47" x2="311.4" y2="265.47" stroke="#111" stroke-width="1.25" />
<text x="307.8" y="267.97" font-size="7.3" font-weight="bold" text-anchor="end" fill="#111" stroke="#111" stroke-width="0.15"  >400</text>
<line x1="308.1" y1="248.7" x2="311.4" y2="248.7" stroke="#111" stroke-width="1.25" />
<text x="307.8" y="251.2" font-size="7.3" font-weight="bold" text-anchor="end" fill="#111" stroke="#111" stroke-width="0.15"  >600</text>
<line x1="308.1" y1="231.93" x2="311.4" y2="231.93" stroke="#111" stroke-width="1.25" />
<text x="307.8" y="234.43" font-size="7.3" font-weight="bold" text-anchor="end" fill="#111" stroke="#111" stroke-width="0.15"  >800</text>
<line x1="308.1" y1="215.17" x2="311.4" y2="215.17" stroke="#111" stroke-width="1.25" />
<text x="307.8" y="217.67" font-size="7.3" font-weight="bold" text-anchor="end" fill="#111" stroke="#111" stroke-width="0.15"  >1000</text>
<line x1="308.1" y1="198.4" x2="311.4" y2="198.4" stroke="#111" stroke-width="1.25" />
<text x="307.8" y="200.9" font-size="7.3" font-weight="bold" text-anchor="end" fill="#111" stroke="#111" stroke-width="0.15"  >1200</text>
<line x1="311.4" y1="299" x2="311.4" y2="302.3" stroke="#111" stroke-width="1.25" />
<text x="311.4" y="309.7" font-size="7.3" font-weight="bold" text-anchor="middle" fill="#111" stroke="#111" stroke-width="0.15"  >0</text>
<line x1="330.33" y1="299" x2="330.33" y2="302.3" stroke="#111" stroke-width="1.25" />
<text x="330.33" y="309.7" font-size="7.3" font-weight="bold" text-anchor="middle" fill="#111" stroke="#111" stroke-width="0.15"  >1</text>
<line x1="349.26" y1="299" x2="349.26" y2="302.3" stroke="#111" stroke-width="1.25" />
<text x="349.26" y="309.7" font-size="7.3" font-weight="bold" text-anchor="middle" fill="#111" stroke="#111" stroke-width="0.15"  >2</text>
<line x1="368.19" y1="299" x2="368.19" y2="302.3" stroke="#111" stroke-width="1.25" />
<text x="368.19" y="309.7" font-size="7.3" font-weight="bold" text-anchor="middle" fill="#111" stroke="#111" stroke-width="0.15"  >3</text>
<line x1="387.12" y1="299" x2="387.12" y2="302.3" stroke="#111" stroke-width="1.25" />
<text x="387.12" y="309.7" font-size="7.3" font-weight="bold" text-anchor="middle" fill="#111" stroke="#111" stroke-width="0.15"  >4</text>
<line x1="406.05" y1="299" x2="406.05" y2="302.3" stroke="#111" stroke-width="1.25" />
<text x="406.05" y="309.7" font-size="7.3" font-weight="bold" text-anchor="middle" fill="#111" stroke="#111" stroke-width="0.15"  >5</text>
<line x1="424.98" y1="299" x2="424.98" y2="302.3" stroke="#111" stroke-width="1.25" />
<text x="424.98" y="309.7" font-size="7.3" font-weight="bold" text-anchor="middle" fill="#111" stroke="#111" stroke-width="0.15"  >6</text>
<line x1="443.91" y1="299" x2="443.91" y2="302.3" stroke="#111" stroke-width="1.25" />
<text x="443.91" y="309.7" font-size="7.3" font-weight="bold" text-anchor="middle" fill="#111" stroke="#111" stroke-width="0.15"  >7</text>
<line x1="462.84" y1="299" x2="462.84" y2="302.3" stroke="#111" stroke-width="1.25" />
<text x="462.84" y="309.7" font-size="7.3" font-weight="bold" text-anchor="middle" fill="#111" stroke="#111" stroke-width="0.15"  >8</text>
<text x="386.9" y="321.4" font-size="8.3" font-weight="bold" text-anchor="middle" fill="#111" stroke="#111" stroke-width="0.15"  >Time (Days)</text>
<text transform="translate(286.6,248.4) rotate(-90)" font-size="8.3" font-weight="bold" text-anchor="middle" fill="#111" stroke="#111" stroke-width="0.15">Platelet Count (x10<tspan font-size="5.8" dy="-3.6" dx="0.3">9</tspan><tspan dy="3.6" dx="0.2">/L)</tspan></text>
<text x="270.8" y="190.7" font-size="13.9" font-weight="bold" text-anchor="start" fill="#111" stroke="#111" stroke-width="0.4"  >D</text>
<line x1="349.26" y1="244.42" x2="349.26" y2="251.13" stroke="#5594de" stroke-width="1.2" />
<line x1="347.06" y1="244.42" x2="351.46" y2="244.42" stroke="#5594de" stroke-width="1.2" />
<line x1="347.06" y1="251.13" x2="351.46" y2="251.13" stroke="#5594de" stroke-width="1.2" />
<line x1="368.19" y1="251.47" x2="368.19" y2="273.26" stroke="#5594de" stroke-width="1.2" />
<line x1="365.99" y1="251.47" x2="370.39" y2="251.47" stroke="#5594de" stroke-width="1.2" />
<line x1="365.99" y1="273.26" x2="370.39" y2="273.26" stroke="#5594de" stroke-width="1.2" />
<line x1="443.91" y1="285.25" x2="443.91" y2="291.96" stroke="#5594de" stroke-width="1.2" />
<line x1="441.71" y1="285.25" x2="446.11" y2="285.25" stroke="#5594de" stroke-width="1.2" />
<line x1="441.71" y1="291.96" x2="446.11" y2="291.96" stroke="#5594de" stroke-width="1.2" />
<line x1="462.84" y1="269.99" x2="462.84" y2="285.08" stroke="#5594de" stroke-width="1.2" />
<line x1="460.64" y1="269.99" x2="465.04" y2="269.99" stroke="#5594de" stroke-width="1.2" />
<line x1="460.64" y1="285.08" x2="465.04" y2="285.08" stroke="#5594de" stroke-width="1.2" />
<path d="M311.4,215.5 L330.33,223.55 L349.26,247.78 L368.19,262.36 L387.12,277.54 L443.91,288.6 L462.84,277.54" fill="none" stroke="#5594de" stroke-width="1.15"/>
<circle cx="311.4" cy="215.5" r="2.05" fill="#5594de"/>
<circle cx="330.33" cy="223.55" r="2.05" fill="#5594de"/>
<circle cx="349.26" cy="247.78" r="2.05" fill="#5594de"/>
<circle cx="368.19" cy="262.36" r="2.05" fill="#5594de"/>
<circle cx="387.12" cy="277.54" r="2.05" fill="#5594de"/>
<circle cx="443.91" cy="288.6" r="2.05" fill="#5594de"/>
<circle cx="462.84" cy="277.54" r="2.05" fill="#5594de"/>
<line x1="311.4" y1="219.11" x2="311.4" y2="226.65" stroke="#e13b47" stroke-width="1.2" />
<line x1="309.2" y1="219.11" x2="313.6" y2="219.11" stroke="#e13b47" stroke-width="1.2" />
<line x1="309.2" y1="226.65" x2="313.6" y2="226.65" stroke="#e13b47" stroke-width="1.2" />
<line x1="330.33" y1="212.82" x2="330.33" y2="233.78" stroke="#e13b47" stroke-width="1.2" />
<line x1="328.13" y1="212.82" x2="332.53" y2="212.82" stroke="#e13b47" stroke-width="1.2" />
<line x1="328.13" y1="233.78" x2="332.53" y2="233.78" stroke="#e13b47" stroke-width="1.2" />
<line x1="349.26" y1="208.54" x2="349.26" y2="222.46" stroke="#e13b47" stroke-width="1.2" />
<line x1="347.06" y1="208.54" x2="351.46" y2="208.54" stroke="#e13b47" stroke-width="1.2" />
<line x1="347.06" y1="222.46" x2="351.46" y2="222.46" stroke="#e13b47" stroke-width="1.2" />
<line x1="368.19" y1="223.89" x2="368.19" y2="233.11" stroke="#e13b47" stroke-width="1.2" />
<line x1="365.99" y1="223.89" x2="370.39" y2="223.89" stroke="#e13b47" stroke-width="1.2" />
<line x1="365.99" y1="233.11" x2="370.39" y2="233.11" stroke="#e13b47" stroke-width="1.2" />
<line x1="387.12" y1="216.59" x2="387.12" y2="223.3" stroke="#e13b47" stroke-width="1.2" />
<line x1="384.92" y1="216.59" x2="389.32" y2="216.59" stroke="#e13b47" stroke-width="1.2" />
<line x1="384.92" y1="223.3" x2="389.32" y2="223.3" stroke="#e13b47" stroke-width="1.2" />
<line x1="443.91" y1="219.02" x2="443.91" y2="229.08" stroke="#e13b47" stroke-width="1.2" />
<line x1="441.71" y1="219.02" x2="446.11" y2="219.02" stroke="#e13b47" stroke-width="1.2" />
<line x1="441.71" y1="229.08" x2="446.11" y2="229.08" stroke="#e13b47" stroke-width="1.2" />
<line x1="462.84" y1="211.98" x2="462.84" y2="232.1" stroke="#e13b47" stroke-width="1.2" />
<line x1="460.64" y1="211.98" x2="465.04" y2="211.98" stroke="#e13b47" stroke-width="1.2" />
<line x1="460.64" y1="232.1" x2="465.04" y2="232.1" stroke="#e13b47" stroke-width="1.2" />
<path d="M311.4,222.88 L330.33,223.3 L349.26,215.5 L368.19,228.5 L387.12,219.95 L443.91,224.05 L462.84,222.04" fill="none" stroke="#e13b47" stroke-width="1.15"/>
<rect x="309.25" y="220.73" width="4.3" height="4.3" fill="#e13b47"/>
<rect x="328.18" y="221.15" width="4.3" height="4.3" fill="#e13b47"/>
<rect x="347.11" y="213.35" width="4.3" height="4.3" fill="#e13b47"/>
<rect x="366.04" y="226.35" width="4.3" height="4.3" fill="#e13b47"/>
<rect x="384.97" y="217.8" width="4.3" height="4.3" fill="#e13b47"/>
<rect x="441.76" y="221.9" width="4.3" height="4.3" fill="#e13b47"/>
<rect x="460.69" y="219.89" width="4.3" height="4.3" fill="#e13b47"/>
<line x1="473" y1="205.5" x2="484.3" y2="205.5" stroke="#5594de" stroke-width="1.2" />
<circle cx="478.65" cy="205.5" r="2.05" fill="#5594de"/>
<text x="490.6" y="208.5" font-size="8.5" font-weight="normal" text-anchor="start" fill="#262626"  >Romi</text>
<line x1="473" y1="217.2" x2="484.3" y2="217.2" stroke="#e13b47" stroke-width="1.2" />
<rect x="476.55" y="215.1" width="4.2" height="4.2" fill="#e13b47"/>
<text x="490.6" y="220.2" font-size="8.5" font-weight="normal" text-anchor="start" fill="#262626"  >Vehicle</text>
<text x="479.6" y="232.5" font-size="6.5" fill="#222"><tspan font-style="italic">P</tspan> ≤ .005</text>
<line x1="311" y1="329.2" x2="457.3" y2="329.2" stroke="#111" stroke-width="2.2" />
<path d="M463.3,329.2 L456.3,326.1 L456.3,332.3 Z" fill="#111"/>
</svg></body></html>
